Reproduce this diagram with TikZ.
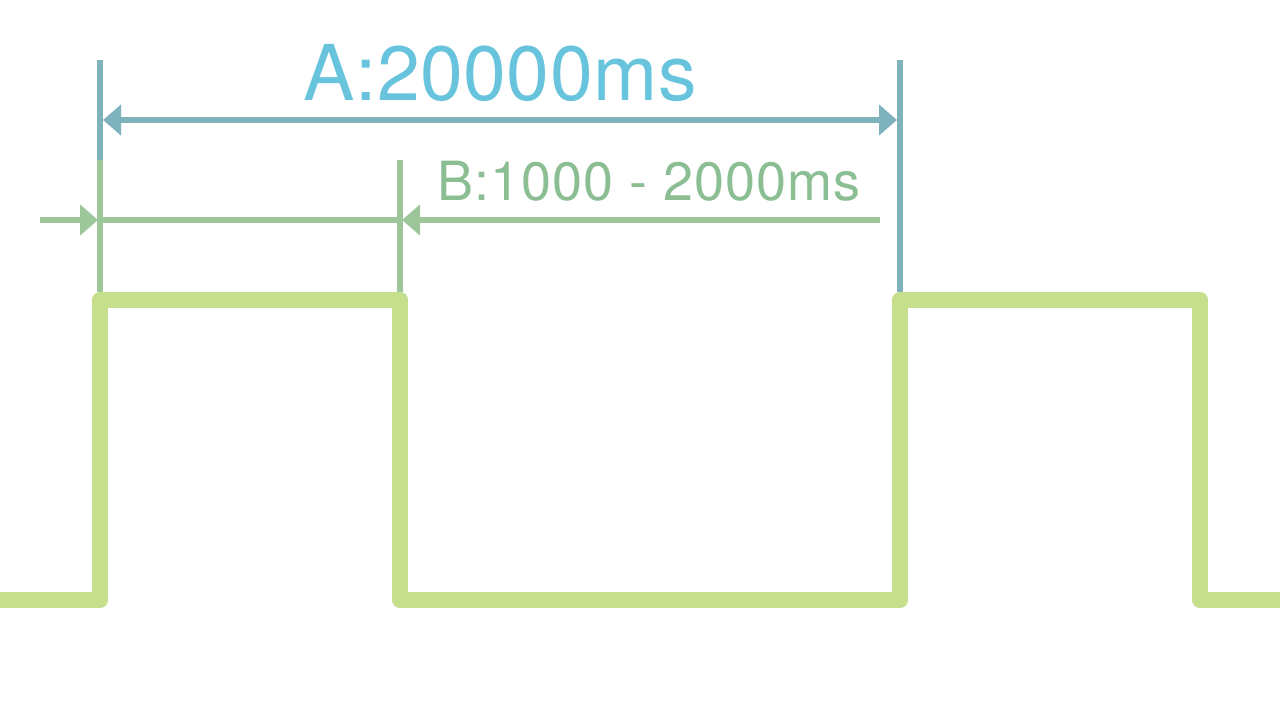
\documentclass[tikz,border=0pt]{standalone}
\usepackage{fontspec}
\setmainfont{TeX Gyre Heros}
\usetikzlibrary{arrows.meta}
\definecolor{signalgreen}{RGB}{197,223,140}
\definecolor{periodteal}{RGB}{127,179,187}
\definecolor{periodtext}{RGB}{104,196,221}
\definecolor{pulsegreen}{RGB}{157,199,154}
\definecolor{pulsetext}{RGB}{140,190,148}

\begin{document}
\begin{tikzpicture}[x=0.5pt, y=-0.5pt,
  signal/.style={line width=8pt, color=signalgreen, line join=round},
  period/.style={line width=3pt, color=periodteal},
  pulse/.style={line width=3pt, color=pulsegreen},
  dimtip/.style={-{Triangle[length=9pt, width=15pt]}}]
\useasboundingbox (0, 0) rectangle (1280, 720);

% signal
\coordinate (s0) at (0, 600);
\coordinate (r1) at (100, 600);
\coordinate (h1) at (100, 300);
\coordinate (f1) at (400, 300);
\coordinate (l1) at (400, 600);
\coordinate (r2) at (900, 600);
\coordinate (h2) at (900, 300);
\coordinate (f2) at (1200, 300);
\coordinate (l2) at (1200, 600);
\coordinate (s1) at (1280, 600);
\draw [signal] (s0) -- (r1) -- (h1) -- (f1) -- (l1) -- (r2) -- (h2) -- (f2) -- (l2) -- (s1);

% period A
\coordinate (A1top) at (100, 60);
\coordinate (A1bot) at (100, 160);
\coordinate (A2top) at (900, 60);
\coordinate (A2bot) at (900, 292);
\draw [period] (A1top) -- (A1bot);
\draw [period] (A2top) -- (A2bot);
\coordinate (Amid) at (500, 120);
\coordinate (Aleft) at (103, 120);
\coordinate (Aright) at (897, 120);
\draw [period, dimtip] (Amid) -- (Aleft);
\draw [period, dimtip] (Amid) -- (Aright);
\node [anchor=base, text=periodtext, font=\fontsize{38.5}{40}\selectfont\addfontfeature{LetterSpace=0.6}, inner sep=0pt] (labelA) at (500, 100) {A:20000ms};

% pulse B
\coordinate (B1top) at (100, 160);
\coordinate (B1bot) at (100, 292);
\coordinate (B2top) at (400, 160);
\coordinate (B2bot) at (400, 292);
\draw [pulse] (B1top) -- (B1bot);
\draw [pulse] (B2top) -- (B2bot);
\coordinate (Bout) at (40, 220);
\coordinate (Btip1) at (98, 220);
\coordinate (Bstart) at (100, 220);
\coordinate (Bend) at (400, 220);
\coordinate (Btip2) at (402, 220);
\coordinate (Bfar) at (880, 220);
\draw [pulse, dimtip] (Bout) -- (Btip1);
\draw [pulse] (Bstart) -- (Bend);
\draw [pulse, dimtip] (Bfar) -- (Btip2);
\node [anchor=base, text=pulsetext, font=\fontsize{27}{28}\selectfont\addfontfeature{LetterSpace=1.8}, inner sep=0pt] (labelB) at (649, 200) {B:1000 - 2000ms};
\end{tikzpicture}
\end{document}
